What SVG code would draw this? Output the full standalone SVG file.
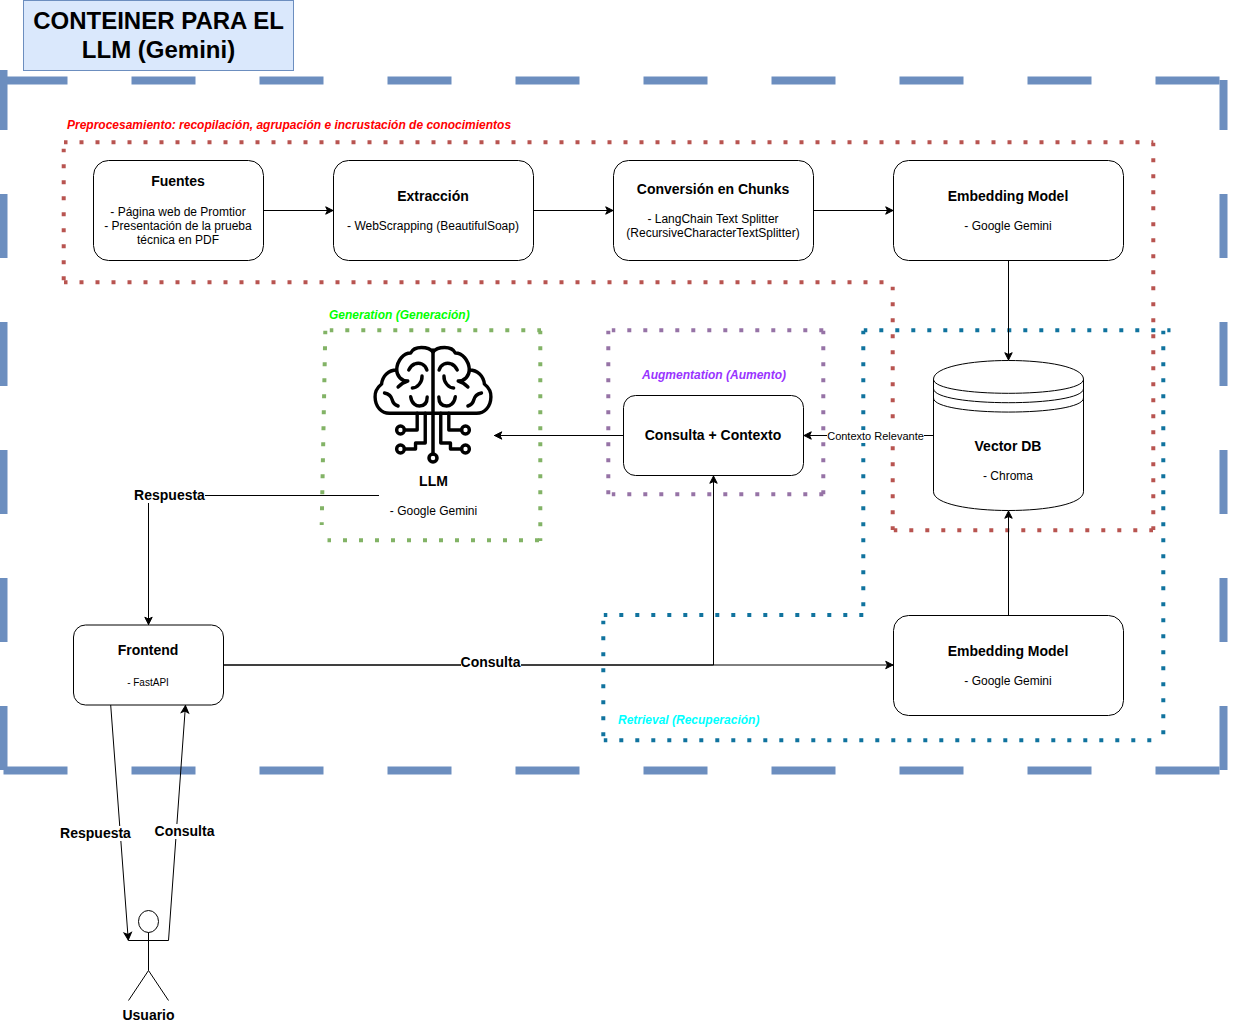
<svg xmlns="http://www.w3.org/2000/svg" width="1260" height="1025" viewBox="0 0 1260 1025">
<style>
text{font-family:"Liberation Sans",Arial,Helvetica,sans-serif;text-anchor:middle;fill:#000}
.t{font-size:14px;font-weight:bold}
.b{font-size:12px}
.s{font-size:12px;font-weight:bold;font-style:italic;text-anchor:start}
.h{font-size:24px;font-weight:bold}
.box{fill:#fff;stroke:#000;stroke-width:1}
.outer{fill:none;stroke:#6c8ebf;stroke-width:8;stroke-dasharray:64 64}
.dot{fill:none;stroke-width:4;stroke-dasharray:4 12;stroke-dashoffset:0.5}
.red{stroke:#b85450}.teal{stroke:#10739e}.pur{stroke:#9673a6}.grn{stroke:#82b366}
.c{fill:none;stroke:#000;stroke-width:1}
.a{marker-end:url(#arr)}
.br{fill:none;stroke:#000;stroke-width:3.5;stroke-linecap:round;stroke-linejoin:round}
.lb{fill:#fff;stroke:none}
</style>
<defs>
<marker id="arr" markerUnits="userSpaceOnUse" markerWidth="12" markerHeight="12" refX="10.500" refY="6" orient="auto" overflow="visible">
<path d="M2.700 2.300L10 6L2.700 9.700L4.500 6Z" fill="#000" stroke="#000" stroke-width="1"/>
</marker>
<g id="brainHalf">
<path class="br" d="M433 352C430 348 425 347.500 421 347.500C416 347.500 412 349 410 353C403 353 396 360 395.500 370C387 370 381 376 380 384C375 388 373 392 373.300 397C373.500 407 380 413.300 388 413.300H433"/>
<path class="br" d="M395.500 370C396 376 400 381 407 381M397 387C400 384 403 382 407 381"/>
<path class="br" d="M426.700 370C425 364 419 362 414 364C411 365 409 368 408 370"/>
<path class="br" d="M421.700 376C422 382 417 388 411.700 388"/>
<path class="br" d="M410 396.700C411 404 416 406 419 406C424 406 427 403 427 397"/>
<path class="br" d="M383 393C388 394 390 396 391 400C392 404 394 405 397 406"/>
<path class="br" d="M416.700 413.300V430H403.500M425 413.300V443H415V449H403.500"/>
<circle class="br" cx="399.500" cy="430" r="4"/>
<circle class="br" cx="399.500" cy="449" r="4"/>
</g>
</defs>

<g id="container-outer">
<path class="outer" d="M3.500 80.500H1219.500"/>
<path class="outer" d="M3.500 770.500H1219.500"/>
<path class="outer" d="M3.500 770V70"/>
<path class="outer" d="M1223.500 770V80"/>
</g>

<g id="title"><rect x="23.500" y="0.500" width="270" height="70" fill="#dae8fc" stroke="#6c8ebf"/>
<text class="h" x="158.500" y="29">CONTEINER PARA EL</text><text class="h" x="158.500" y="58">LLM (Gemini)</text></g>

<g id="region-preprocess">
<path class="dot red" d="M64 142.300H1153.300"/>
<path class="dot red" d="M1153.300 142.800V530"/>
<path class="dot red" d="M893.800 530.300H1153"/>
<path class="dot red" d="M892.700 286.800V530"/>
<path class="dot red" d="M64 282.300H892.700"/>
<path class="dot red" d="M63.700 148.800V282"/>
<text class="s" x="67" y="129" style="fill:#ff0000">Preprocesamiento: recopilación, agrupación e incrustación de conocimientos</text>
</g>
<g id="region-generation">
<path class="dot grn" d="M329.800 330.300H541"/>
<path class="dot grn" d="M325.300 330.800L321.700 525"/>
<path class="dot grn" d="M540.300 330.800V541"/>
<path class="dot grn" d="M327.500 540.300H541"/>
<text class="s" x="329" y="319" style="fill:#00ff00">Generation (Generación)</text>
</g>
<g id="region-augmentation">
<path class="dot pur" d="M611.800 330.300H824"/>
<path class="dot pur" d="M608.300 330.800V495"/>
<path class="dot pur" d="M823.300 330.800V495"/>
<path class="dot pur" d="M611.800 494.300H824"/>
<text class="s" x="642" y="379" style="fill:#9933ff">Augmentation (Aumento)</text>
</g>
<g id="region-retrieval">
<path class="dot teal" d="M863.800 330.300H1170.500"/>
<path class="dot teal" d="M1163.300 330.800V741"/>
<path class="dot teal" d="M603.800 740.300H1163"/>
<path class="dot teal" d="M603.300 620.800V741"/>
<path class="dot teal" d="M603.800 615H864"/>
<path class="dot teal" d="M863.300 330.800V616"/>
<text class="s" x="618" y="724" style="fill:#00ffff">Retrieval (Recuperación)</text>
</g>

<g id="connectors">
<path class="c a" d="M263.500 210.500H333.500"/>
<path class="c a" d="M533.500 210.500H613.500"/>
<path class="c a" d="M813.500 210.500H893.500"/>
<path class="c a" d="M1008.500 260.500V360.500"/>
<path class="c a" d="M933.500 435.500H803.500"/>
<path class="c a" d="M623.500 435.500H494"/>
<path class="c a" d="M1008.500 615.500V510.500"/>
<path class="c a" d="M223.500 665H893.500"/>
<path class="c a" d="M223.500 665H713.500V475.500"/>
<path class="c a" d="M379 495.500H148.500V625"/>
<path class="c a" d="M110.700 705L128.300 940.500"/>
<path class="c a" d="M168.500 940.500L185.500 705"/>
<g id="edge-labels">
<rect class="lb" x="827" y="430" width="97" height="13"/>
<text x="875.500" y="440" style="font-size:11px">Contexto Relevante</text>
<rect class="lb" x="134" y="488" width="71" height="15"/>
<text class="t" x="169.500" y="500">Respuesta</text>
<rect class="lb" x="461" y="655" width="60" height="15"/>
<text class="t" x="490.500" y="667">Consulta</text>
<rect class="lb" x="60" y="826" width="71" height="15"/>
<text class="t" x="95.500" y="838">Respuesta</text>
<rect class="lb" x="155" y="824" width="60" height="15"/>
<text class="t" x="184.500" y="836">Consulta</text>
</g>
</g>

<g id="fuentes"><rect class="box" x="93.500" y="160.500" width="170" height="100" rx="15"/>
<text class="t" x="178" y="186">Fuentes</text>
<text class="b" x="178" y="216">- Página web de Promtior</text>
<text class="b" x="178" y="230">- Presentación de la prueba</text>
<text class="b" x="178" y="244">técnica en PDF</text></g>
<g id="extraccion"><rect class="box" x="333.500" y="160.500" width="200" height="100" rx="15"/>
<text class="t" x="433" y="201">Extracción</text>
<text class="b" x="433" y="230">- WebScrapping (BeautifulSoap)</text></g>
<g id="chunks"><rect class="box" x="613.500" y="160.500" width="200" height="100" rx="15"/>
<text class="t" x="713" y="194">Conversión en Chunks</text>
<text class="b" x="713" y="223">- LangChain Text Splitter</text>
<text class="b" x="713" y="237">(RecursiveCharacterTextSplitter)</text></g>
<g id="embedding1"><rect class="box" x="893.500" y="160.500" width="230" height="100" rx="15"/>
<text class="t" x="1008" y="201">Embedding Model</text>
<text class="b" x="1008" y="230">- Google Gemini</text></g>

<g id="vectordb">
<path class="box" d="M933.500 379.250C933.500 354.250 1083.500 354.250 1083.500 379.250V491.750C1083.500 516.750 933.500 516.750 933.500 491.750Z"/>
<path class="c" d="M933.500 379.250C933.500 398 1083.500 398 1083.500 379.250M933.500 388.600C933.500 407.400 1083.500 407.400 1083.500 388.600M933.500 398C933.500 416.750 1083.500 416.750 1083.500 398"/>
<text class="t" x="1008" y="451">Vector DB</text>
<text class="b" x="1008" y="480">- Chroma</text></g>

<g id="contexto"><rect class="box" x="623.500" y="395.500" width="180" height="80" rx="12"/>
<text class="t" x="713" y="440">Consulta + Contexto</text></g>

<g id="llm">
<g transform="translate(433 0) scale(.97 1) translate(-433 0)">
<use href="#brainHalf"/>
<use href="#brainHalf" transform="translate(866 0) scale(-1 1)"/>
</g>
<path class="br" d="M433 350V454"/>
<circle class="br" cx="433" cy="458" r="4"/>
<text class="t" x="433.500" y="486">LLM</text>
<text class="b" x="433.500" y="515">- Google Gemini</text></g>

<g id="frontend"><rect class="box" x="73.500" y="625" width="150" height="80" rx="12"/>
<text class="t" x="148" y="655">Frontend</text>
<text x="148" y="686" style="font-size:10px">- FastAPI</text></g>

<g id="embedding2"><rect class="box" x="893.500" y="615.500" width="230" height="100" rx="15"/>
<text class="t" x="1008" y="656">Embedding Model</text>
<text class="b" x="1008" y="685">- Google Gemini</text></g>

<g id="usuario" class="c">
<ellipse cx="148.500" cy="921.500" rx="10" ry="11"/>
<path d="M148.500 932.500V970.500M128.500 940.500H168.500M148.500 970.500L128.500 1000.500M148.500 970.500L168.500 1000.500"/>
<text class="t" x="148.500" y="1020" style="stroke:none">Usuario</text></g>
</svg>
